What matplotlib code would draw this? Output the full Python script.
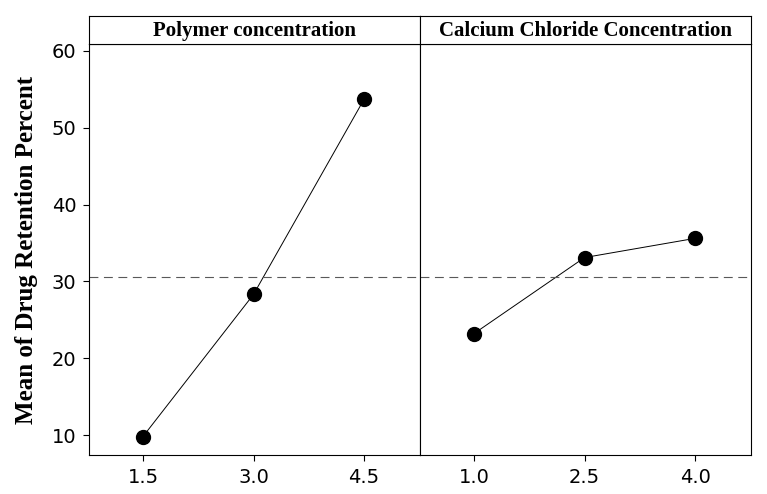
import matplotlib
matplotlib.use("Agg")
import matplotlib.pyplot as plt

# main effects data
poly_levels = [1.5, 3.0, 4.5]
poly_means = [9.8, 28.3, 53.7]
cacl_levels = [1.0, 2.5, 4.0]
cacl_means = [23.2, 33.1, 35.6]
grand_mean = 30.6
panel_titles = ["Polymer concentration", "Calcium Chloride Concentration"]
y_label = "Mean of Drug Retention Percent"
y_ticks = [10, 20, 30, 40, 50, 60]

fig = plt.figure(figsize=(7.67, 4.94), dpi=100)
x0, x1 = 89 / 767, 751 / 767
ybot, ytop, stop = 1 - 455 / 494, 1 - 44 / 494, 1 - 16 / 494
w = (x1 - x0) / 2

panels = [(poly_levels, poly_means), (cacl_levels, cacl_means)]
for i, (lv, mv) in enumerate(panels):
    ax = fig.add_axes([x0 + i * w, ybot, w, ytop - ybot])
    ax.plot(lv, mv, "-", color="black", lw=0.7)
    ax.plot(lv, mv, "o", color="black", ms=10)
    ax.axhline(grand_mean, color="0.35", ls=(0, (8, 5)), lw=0.8)
    span = lv[-1] - lv[0]
    ax.set_xlim(lv[0] - span * 0.244, lv[-1] + span * 0.253)
    ax.set_ylim(7.4, 60.9)
    ax.set_xticks(lv)
    ax.set_xticklabels([f"{v:.1f}" for v in lv])
    ax.tick_params(axis="x", labelsize=14, length=4, width=0.8, pad=5)
    if i == 0:
        ax.set_yticks(y_ticks)
        ax.tick_params(axis="y", labelsize=14, length=4, width=0.8, pad=5)
        ax.set_ylabel(y_label, family="Liberation Serif", fontweight="bold",
                      fontsize=18, labelpad=10)
    else:
        ax.set_yticks([])
    for s in ax.spines.values():
        s.set_linewidth(0.8)

    # strip header
    hx = fig.add_axes([x0 + i * w, ytop, w, stop - ytop])
    hx.set_xticks([])
    hx.set_yticks([])
    for s in hx.spines.values():
        s.set_linewidth(0.8)
    hx.text(0.5, 0.48, panel_titles[i], ha="center", va="center",
            family="Liberation Serif", fontweight="bold", fontsize=15,
            transform=hx.transAxes)

fig.savefig("out.png", dpi=100)
